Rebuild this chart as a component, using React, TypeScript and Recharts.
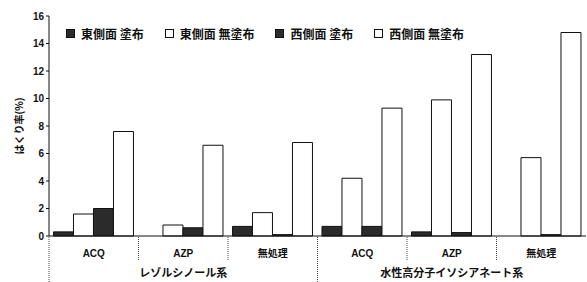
import { BarChart, Bar, XAxis, YAxis, Legend } from 'recharts';

const categories = ['ACQ', 'AZP', '無処理', 'ACQ', 'AZP', '無処理'];
const groupNames = ['レゾルシノール系', '水性高分子イソシアネート系'];
const seriesNames = ['東側面 塗布', '東側面 無塗布', '西側面 塗布', '西側面 無塗布'];
const eastCoated = [0.3, 0, 0.7, 0.7, 0.3, 0];
const eastUncoated = [1.6, 0.8, 1.7, 4.2, 9.9, 5.7];
const westCoated = [2.0, 0.6, 0.1, 0.7, 0.25, 0.1];
const westUncoated = [7.6, 6.6, 6.8, 9.3, 13.2, 14.8];
const yTicks = [0, 2, 4, 6, 8, 10, 12, 14, 16];

const W = 587;
const H = 282;
const margin = { top: 16, right: 1, left: 21, bottom: 0 };
const yAxisWidth = 28;
const xAxisHeight = 46;
const plotLeft = margin.left + yAxisWidth;
const plotW = W - plotLeft - margin.right;
const band = plotW / categories.length;
const baseY = H - margin.bottom - xAxisHeight;

const dark = '#2b2b2b';
const cjk = '"Noto Sans CJK JP", "Noto Sans", sans-serif';
const latin = '"Liberation Sans", Arial, sans-serif';

const data = categories.map((c, i) => ({
  name: c,
  ec: eastCoated[i],
  eu: eastUncoated[i],
  wc: westCoated[i],
  wu: westUncoated[i],
}));

const fills = [dark, '#ffffff', dark, '#ffffff'];

function CategoryTick(props: any) {
  const { x, index, payload } = props;
  const left = x - band / 2;
  const isGroupStart = index % 3 === 0;
  return (
    <g>
      <line
        x1={left}
        x2={left}
        y1={baseY + 1}
        y2={isGroupStart ? H : baseY + 24}
        stroke="#444"
        strokeDasharray="1 1"
      />
      <text
        x={x}
        y={baseY + 21}
        textAnchor="middle"
        fontSize={10}
        fontWeight="bold"
        fontFamily={payload.value === '無処理' ? cjk : latin}
        fill="#111"
      >
        {payload.value}
      </text>
      {index % 3 === 1 && (
        <text
          x={x}
          y={baseY + 41}
          textAnchor="middle"
          fontSize={11}
          fontWeight="bold"
          fontFamily={cjk}
          fill="#111"
        >
          {groupNames[Math.floor(index / 3)]}
        </text>
      )}
    </g>
  );
}

function renderLegend() {
  return (
    <div style={{ display: 'flex', alignItems: 'center', fontFamily: cjk, fontSize: 12, fontWeight: 'bold', color: '#111' }}>
      {seriesNames.map((n, i) => (
        <div key={n} style={{ display: 'flex', alignItems: 'center', marginRight: 21 }}>
          <span
            style={{
              display: 'inline-block',
              width: 7,
              height: 7,
              background: fills[i],
              border: '1px solid #111',
              marginRight: 6,
            }}
          />
          <span style={{ whiteSpace: 'pre' }}>{n}</span>
        </div>
      ))}
    </div>
  );
}

export default function App() {
  return (
    <div style={{ position: 'absolute', left: 0, top: 0, background: '#fff' }}>
      <BarChart width={W} height={H} data={data} margin={margin} barCategoryGap="5%" barGap={0}>
        <XAxis
          dataKey="name"
          height={xAxisHeight}
          axisLine={{ stroke: '#111' }}
          tickLine={false}
          tick={<CategoryTick />}
          interval={0}
        />
        <YAxis
          width={yAxisWidth}
          domain={[0, 16]}
          ticks={yTicks}
          interval={0}
          axisLine={{ stroke: '#111' }}
          tickLine={{ stroke: '#111' }}
          tickSize={3}
          tick={{ fontSize: 10, fontWeight: 'bold', fontFamily: latin, fill: '#111' }}
          label={{
            value: 'はくり率(%)',
            angle: -90,
            position: 'left',
            offset: 2,
            style: { fontSize: 10, fontWeight: 'bold', fontFamily: cjk, fill: '#111', textAnchor: 'middle' },
          }}
        />
        <Legend
          content={renderLegend}
          layout="horizontal"
          verticalAlign="middle"
          align="center"
          wrapperStyle={{ top: 25, left: 66, width: 'auto' }}
        />
        <Bar dataKey="ec" name={seriesNames[0]} fill={dark} stroke="#111" isAnimationActive={false} />
        <Bar dataKey="eu" name={seriesNames[1]} fill="#fff" stroke="#111" isAnimationActive={false} />
        <Bar dataKey="wc" name={seriesNames[2]} fill={dark} stroke="#111" isAnimationActive={false} />
        <Bar dataKey="wu" name={seriesNames[3]} fill="#fff" stroke="#111" isAnimationActive={false} />
      </BarChart>
    </div>
  );
}
